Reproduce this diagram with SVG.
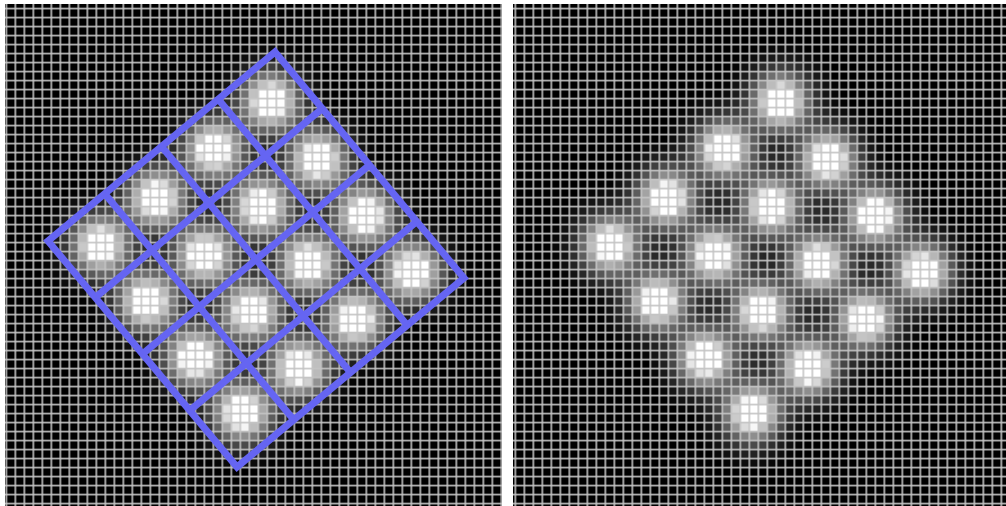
<svg xmlns="http://www.w3.org/2000/svg" width="1006" height="506" viewBox="0 0 1006 506">
<defs>
<style>
.blob{fill:url(#blobGrad)}
.blue{fill:none;stroke:#6565f2;stroke-width:7;stroke-linejoin:miter;stroke-linecap:butt}
</style>
<radialGradient id="blobGrad" cx="0.5" cy="0.5" r="0.5">
<stop offset="0" stop-color="#fff" stop-opacity="1"/>
<stop offset="0.235" stop-color="#fff" stop-opacity="1"/>
<stop offset="0.3" stop-color="#fff" stop-opacity="0.76"/>
<stop offset="0.45" stop-color="#fff" stop-opacity="0.43"/>
<stop offset="0.6" stop-color="#fff" stop-opacity="0.21"/>
<stop offset="0.75" stop-color="#fff" stop-opacity="0.09"/>
<stop offset="0.9" stop-color="#fff" stop-opacity="0.03"/>
<stop offset="1" stop-color="#fff" stop-opacity="0"/>
</radialGradient>
<g id="blobs">
<circle class="blob" cx="270" cy="101" r="60"/>
<circle class="blob" cx="317.5" cy="159" r="60"/>
<circle class="blob" cx="364.5" cy="215" r="60"/>
<circle class="blob" cx="412" cy="271" r="60"/>
<circle class="blob" cx="213.5" cy="149" r="60"/>
<circle class="blob" cx="260.5" cy="206" r="60"/>
<circle class="blob" cx="308" cy="262.5" r="60"/>
<circle class="blob" cx="355" cy="319" r="60"/>
<circle class="blob" cx="156" cy="198" r="60"/>
<circle class="blob" cx="204" cy="254.5" r="60"/>
<circle class="blob" cx="251" cy="311" r="60"/>
<circle class="blob" cx="298.5" cy="367" r="60"/>
<circle class="blob" cx="100" cy="244.5" r="60"/>
<circle class="blob" cx="147" cy="301" r="60"/>
<circle class="blob" cx="195" cy="357.5" r="60"/>
<circle class="blob" cx="242" cy="412" r="60"/>
</g>
<filter id="pixL" filterUnits="userSpaceOnUse" x="5" y="4" width="497" height="502" color-interpolation-filters="sRGB">
<feFlood x="10" y="12" width="1" height="1" flood-color="#fff" flood-opacity="1"/>
<feOffset dx="0" dy="0" x="6" y="8" width="9" height="9"/>
<feTile result="a"/>
<feComposite in="SourceGraphic" in2="a" operator="in"/>
<feMorphology operator="dilate" radius="4"/>
</filter>
<filter id="pixR" filterUnits="userSpaceOnUse" x="513" y="4" width="493" height="502" color-interpolation-filters="sRGB">
<feFlood x="519" y="12" width="1" height="1" flood-color="#fff" flood-opacity="1"/>
<feOffset dx="0" dy="0" x="515" y="8" width="9" height="9"/>
<feTile result="a"/>
<feComposite in="SourceGraphic" in2="a" operator="in"/>
<feMorphology operator="dilate" radius="4"/>
</filter>
<pattern id="gridL" patternUnits="userSpaceOnUse" x="5.5" y="7.7" width="9" height="9">
<rect width="1.6" height="9" fill="#c4c4c4"/>
<rect width="9" height="1.6" fill="#c4c4c4"/>
</pattern>
<pattern id="gridR" patternUnits="userSpaceOnUse" x="514.5" y="7.7" width="9" height="9">
<rect width="1.6" height="9" fill="#c4c4c4"/>
<rect width="9" height="1.6" fill="#c4c4c4"/>
</pattern>
</defs>
<rect width="1006" height="506" fill="#fff"/>
<g id="panel-left">
<rect x="5" y="4" width="497" height="502" fill="#000"/>
<g filter="url(#pixL)">
<rect x="5" y="4" width="497" height="502" fill="#000"/>
<use href="#blobs"/>
</g>
<rect x="5" y="4" width="497" height="502" fill="url(#gridL)"/>
</g>
<g id="panel-right">
<rect x="513" y="4" width="493" height="502" fill="#000"/>
<g filter="url(#pixR)">
<rect x="513" y="4" width="493" height="502" fill="#000"/>
<use href="#blobs" transform="translate(510 0)"/>
</g>
<rect x="513" y="4" width="493" height="502" fill="url(#gridR)"/>
</g>
<g id="blue-grid">
<polygon class="blue" points="275,52 464,278 237,467 48,241"/>
<line class="blue" x1="218.25" y1="99.25" x2="407.25" y2="325.25"/>
<line class="blue" x1="161.5" y1="146.5" x2="350.5" y2="372.5"/>
<line class="blue" x1="104.75" y1="193.75" x2="293.75" y2="419.75"/>
<line class="blue" x1="322.25" y1="108.5" x2="95.25" y2="297.5"/>
<line class="blue" x1="369.5" y1="165" x2="142.5" y2="354"/>
<line class="blue" x1="416.75" y1="221.5" x2="189.75" y2="410.5"/>
</g>
</svg>
